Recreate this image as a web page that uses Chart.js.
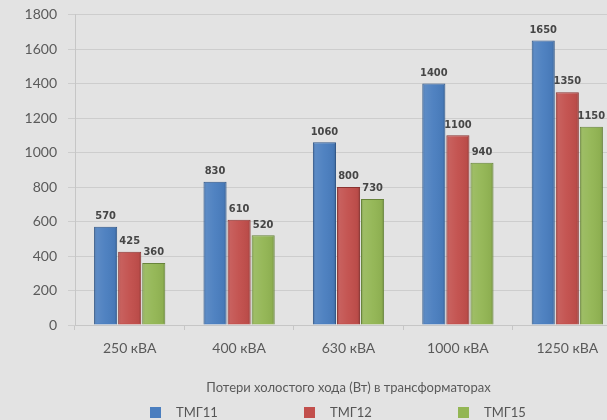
<!DOCTYPE html>
<html>
<head>
<meta charset="utf-8">
<script src="https://cdn.jsdelivr.net/npm/chart.js@4/dist/chart.umd.min.js"></script>
<style>
  html, body { margin: 0; padding: 0; background: #e3e3e3; overflow: hidden; }
  #wrap { position: relative; width: 607px; height: 420px; overflow: hidden; }
  #chart { position: absolute; left: 0; top: 0; }
  #legend { position: absolute; left: 150px; top: 404px; display: flex;
            font: 13px Lato, "Open Sans", sans-serif; color: #555; }
  #legend .item { width: 154px; display: flex; align-items: center; }
  #legend .sw { width: 11px; height: 11px; margin-right: 15px; }
</style>
</head>
<body>
<div id="wrap">
  <canvas id="chart" width="622" height="420"></canvas>
  <div id="legend"></div>
</div>
<script>
// Transformer ratings
const categories = ['250 кВА', '400 кВА', '630 кВА', '1000 кВА', '1250 кВА'];
// No-load losses, W
const tmg11 = [570, 830, 1060, 1400, 1650];
const tmg12 = [425, 610, 800, 1100, 1350];
const tmg15 = [360, 520, 730, 940, 1150];
const seriesNames = ['ТМГ11', 'ТМГ12', 'ТМГ15'];
const axisTitle = 'Потери холостого хода (Вт) в трансформаторах';
const yMax = 1800;
const yStep = 200;

const fills   = ['#4a7ebf', '#c24f4c', '#93b654'];
const borders = ['#2f5688', '#8a3331', '#67843a'];

// Soft left/right shading over each bar for a rounded look
const barSheen = {
  id: 'barSheen',
  afterDatasetsDraw(chart) {
    const ctx = chart.ctx;
    ctx.save();
    chart.data.datasets.forEach((ds, i) => {
      chart.getDatasetMeta(i).data.forEach(el => {
        const { x, y, base, width } = el.getProps(['x', 'y', 'base', 'width'], true);
        const l = x - width / 2;
        const g = ctx.createLinearGradient(l, 0, l + width, 0);
        g.addColorStop(0, 'rgba(0,0,0,0.20)');
        g.addColorStop(0.12, 'rgba(255,255,255,0.10)');
        g.addColorStop(0.5, 'rgba(255,255,255,0.03)');
        g.addColorStop(0.88, 'rgba(0,0,0,0.04)');
        g.addColorStop(1, 'rgba(0,0,0,0.22)');
        ctx.fillStyle = g;
        ctx.fillRect(l + 1, y + 1, width - 2, base - y - 2);
      });
    });
    ctx.restore();
  }
};

// Value printed above every bar
const valueLabels = {
  id: 'valueLabels',
  afterDatasetsDraw(chart) {
    const ctx = chart.ctx;
    ctx.save();
    ctx.font = 'bold 11px "DejaVu Sans", sans-serif';
    if ('fontStretch' in ctx) ctx.fontStretch = 'condensed';
    ctx.fillStyle = '#464646';
    ctx.textAlign = 'center';
    ctx.textBaseline = 'bottom';
    chart.data.datasets.forEach((ds, i) => {
      chart.getDatasetMeta(i).data.forEach((el, j) => {
        ctx.fillText(String(ds.data[j]), el.x, el.y - 5);
      });
    });
    ctx.restore();
  }
};

const tickFont = { family: 'Lato, "Open Sans", sans-serif', size: 14 };

const chart = new Chart(document.getElementById('chart'), {
  type: 'bar',
  data: {
    labels: categories,
    datasets: [tmg11, tmg12, tmg15].map((values, i) => ({
      label: seriesNames[i],
      data: values,
      backgroundColor: fills[i],
      borderColor: borders[i],
      borderWidth: 1,
      categoryPercentage: 0.66,
      barPercentage: 0.96
    }))
  },
  options: {
    responsive: false,
    animation: false,
    layout: { padding: { top: 14.5, right: 0, bottom: 23, left: 0 } },
    plugins: {
      legend: { display: false },
      tooltip: { enabled: false }
    },
    scales: {
      x: {
        grid: { display: true, drawOnChartArea: false, tickLength: 5, color: '#c6c6c6' },
        border: { color: '#c6c6c6' },
        ticks: { font: tickFont, color: '#5a5a5a', padding: 10 },
        title: {
          display: true, text: axisTitle, color: '#5a5a5a',
          font: { family: 'Lato, "Open Sans", sans-serif', size: 13 },
          padding: { top: 0, bottom: 1 }
        },
        afterFit(scale) { scale.height = 72; }
      },
      y: {
        min: 0, max: yMax,
        grid: { color: '#cdcdcd', tickLength: 7 },
        border: { color: '#c6c6c6' },
        ticks: {
          stepSize: yStep, font: tickFont, color: '#5a5a5a', padding: 11,
          callback: v => String(v)
        },
        afterFit(scale) {
          scale.width = 75;
          scale.paddingTop = 0;
          scale.paddingBottom = 0;
        }
      }
    }
  },
  plugins: [barSheen, valueLabels]
});

// Legend built from the chart's own legend items
const legendEl = document.getElementById('legend');
chart.options.plugins.legend.labels.generateLabels(chart).forEach(item => {
  const div = document.createElement('div');
  div.className = 'item';
  const sw = document.createElement('span');
  sw.className = 'sw';
  sw.style.background = fills[item.datasetIndex];
  const txt = document.createElement('span');
  txt.textContent = item.text;
  div.appendChild(sw);
  div.appendChild(txt);
  legendEl.appendChild(div);
});
</script>
</body>
</html>
